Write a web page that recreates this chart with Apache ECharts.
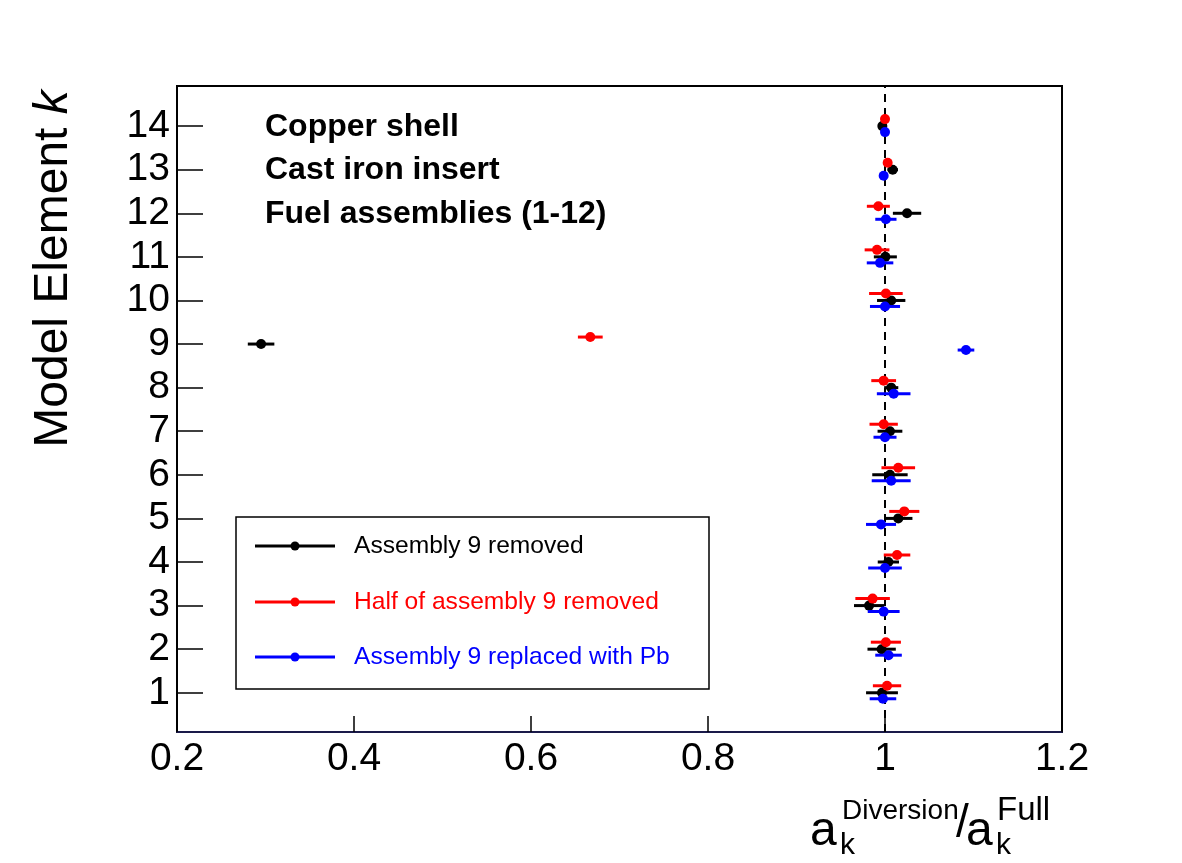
<!DOCTYPE html>
<html>
<head>
<meta charset="utf-8">
<script src="https://cdn.jsdelivr.net/npm/echarts@6/dist/echarts.min.js"></script>
<style>
html,body{margin:0;padding:0;background:#fff;}
#main{width:1182px;height:863px;}
</style>
</head>
<body>
<div id="main"></div>
<script>
// model element index k
var elements = [1,2,3,4,5,6,7,8,9,10,11,12,13,14];
var xTicks = [0.2,0.4,0.6,0.8,1.0,1.2];

// a_k^Diversion / a_k^Full, one value per k
var removedVal   = [0.9966,0.9962,0.982,1.0038,1.015,1.0056,1.0056,1.007,0.295,1.007,1.0004,1.0249,1.0087,0.997];
var removedErr   = [0.018,0.016,0.017,0.012,0.016,0.020,0.014,0.008,0.015,0.016,0.013,0.016,0.006,0.003];
var halfVal      = [1.0023,1.001,0.986,1.0136,1.0218,1.015,0.9985,0.9985,0.667,1.001,0.991,0.9925,1.003,1.000];
var halfErr      = [0.016,0.017,0.0195,0.015,0.017,0.019,0.016,0.014,0.014,0.019,0.014,0.013,0.004,0.002];
var leadVal      = [0.9977,1.004,0.9985,1.000,0.9955,1.007,1.000,1.0098,1.0915,1.000,0.9944,1.001,0.9985,1.000];
var leadErr      = [0.015,0.015,0.018,0.019,0.017,0.022,0.013,0.019,0.0094,0.017,0.015,0.012,0.004,0.002];

var seriesNames = ['Assembly 9 removed','Half of assembly 9 removed','Assembly 9 replaced with Pb'];
var seriesColors = ['#000000','#ff0000','#0000ff'];
var textLines = ['Copper shell','Cast iron insert','Fuel assemblies (1-12)'];

var FONT = '"Liberation Sans", Arial, Helvetica, sans-serif';
var yShift = [0,-7,6];   // pixel offsets so the three sets don't overlap

function build(vals, errs){
  var out = [];
  for (var i = 0; i < elements.length; i++) out.push([vals[i], elements[i], errs[i]]);
  return out;
}
var sets = [build(removedVal,removedErr), build(halfVal,halfErr), build(leadVal,leadErr)];

function makeSeries(idx){
  var col = seriesColors[idx];
  return {
    name: seriesNames[idx],
    type: 'custom',
    data: sets[idx],
    encode: {x:0, y:1},
    z: 5 + idx,
    renderItem: function(params, api){
      var x = api.value(0), k = api.value(1), e = api.value(2);
      var p = api.coord([x,k]);
      var l = api.coord([x-e,k]);
      var r = api.coord([x+e,k]);
      var y = p[1] + yShift[idx];
      return {
        type:'group',
        children:[
          {type:'line', shape:{x1:l[0],y1:y,x2:r[0],y2:y}, style:{stroke:col, lineWidth:3}},
          {type:'circle', shape:{cx:p[0],cy:y,r:5}, style:{fill:col}}
        ]
      };
    }
  };
}

var chart = echarts.init(document.getElementById('main'));

var graphics = [];
// annotation text
for (var t = 0; t < textLines.length; t++){
  graphics.push({type:'text', x:265, y:127 + t*43.6,
    style:{text:textLines[t], font:'bold 32px ' + FONT, fill:'#000', verticalAlign:'middle'}});
}
// legend box
graphics.push({type:'rect', shape:{x:236,y:517,width:473,height:172},
  style:{fill:'#fff', stroke:'#000', lineWidth:1.5}, z:10});
var legY = [546,602,657];
for (var s = 0; s < seriesNames.length; s++){
  graphics.push({type:'line', shape:{x1:255,y1:legY[s],x2:335,y2:legY[s]},
    style:{stroke:seriesColors[s], lineWidth:3}, z:11});
  graphics.push({type:'circle', shape:{cx:295,cy:legY[s],r:4.5},
    style:{fill:seriesColors[s]}, z:11});
  graphics.push({type:'text', x:354, y:legY[s], z:11,
    style:{text:seriesNames[s], font:'24.6px ' + FONT, fill:seriesColors[s], verticalAlign:'middle'}});
}
// y axis title
graphics.push({type:'text', x:54, y:269, rotation:Math.PI/2,
  style:{text:'{n|Model Element }{i|k}', align:'center', verticalAlign:'middle',
    rich:{n:{font:'48px ' + FONT, fill:'#000'}, i:{font:'italic 48px ' + FONT, fill:'#000'}}}});
// x axis title  a_k^Diversion / a_k^Full
var xt = [
  {s:'a', x:810, y:832, f:48},
  {s:'k', x:840, y:846, f:30},
  {s:'Diversion', x:842, y:811, f:28},
  {s:'/', x:956, y:824, f:46},
  {s:'a', x:966, y:832, f:48},
  {s:'k', x:996, y:846, f:30},
  {s:'Full', x:997, y:811, f:33}
];
xt.forEach(function(o){
  graphics.push({type:'text', x:o.x, y:o.y,
    style:{text:o.s, font:o.f + 'px ' + FONT, fill:'#000', verticalAlign:'middle'}});
});

chart.setOption({
  animation:false,
  backgroundColor:'#fff',
  grid:{left:177, right:120, top:86, bottom:131, show:true, borderColor:'#000', borderWidth:2, backgroundColor:'transparent'},
  xAxis:{
    type:'value', min:0.2, max:1.2, interval:0.2,
    axisLine:{show:true, onZero:false, lineStyle:{color:'#1a1a4a', width:2}},
    axisTick:{show:true, inside:true, length:16, lineStyle:{color:'#000', width:1.5}},
    axisLabel:{fontSize:39, color:'#000', fontFamily:FONT, margin:8,
      formatter:function(v){ return String(+v.toFixed(1)); }},
    splitLine:{show:false}
  },
  yAxis:{
    type:'value', min:0.1, max:14.92,
    axisLine:{show:true, onZero:false, lineStyle:{color:'#000', width:2}},
    axisTick:{show:true, inside:true, length:26, customValues:elements, lineStyle:{color:'#000', width:1.5}},
    axisLabel:{fontSize:39, color:'#000', fontFamily:FONT, margin:7, customValues:elements},
    splitLine:{show:false}
  },
  series:[
    {type:'line', data:[[1,0.1],[1,14.92]], symbol:'none', silent:true, z:2,
      lineStyle:{color:'#000', width:2, type:[8,6]}},
    makeSeries(0), makeSeries(1), makeSeries(2)
  ],
  graphic:graphics
});
</script>
</body>
</html>
